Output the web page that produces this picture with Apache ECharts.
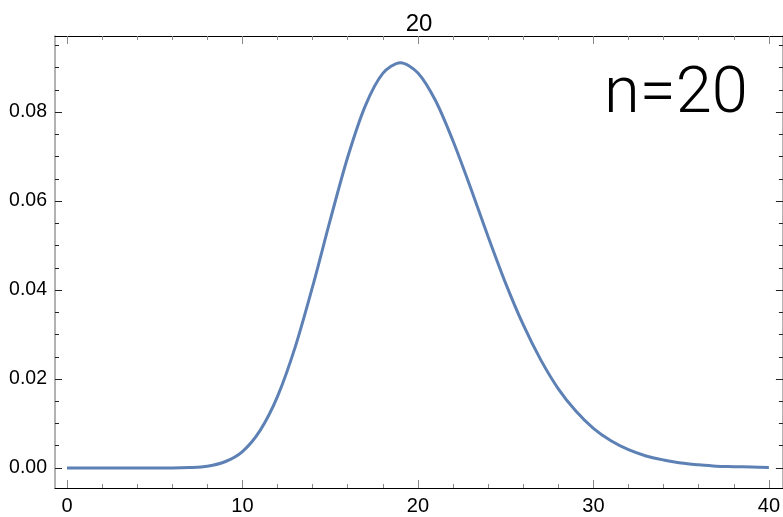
<!DOCTYPE html>
<html style="height: 100%">
<head>
<meta charset="utf-8">
<script src="https://cdn.jsdelivr.net/npm/echarts@6/dist/echarts.min.js"></script>
</head>
<body style="width: 100%; height: 100%; margin: 0; background: #fff;">
<div id="container" style="width: 783px; height: 517px;"></div>
<script type="text/javascript">
	// curve values, one per integer x
	var xValues = [0, 1, 2, 3, 4, 5, 6, 7, 8, 9, 10, 11, 12, 13, 14, 15, 16, 17, 18, 19, 20,
		21, 22, 23, 24, 25, 26, 27, 28, 29, 30, 31, 32, 33, 34, 35, 36, 37, 38, 39, 40];
	var density = [0, 0, 0, 0, 0, 0, 0, 0.0001, 0.0004, 0.0014, 0.0037, 0.0084, 0.0161, 0.0271, 0.0408,
		0.0557, 0.0699, 0.0814, 0.0887, 0.0911, 0.0888, 0.0826, 0.0735, 0.0630, 0.0520, 0.0415,
		0.0322, 0.0243, 0.0178, 0.0128, 0.0089, 0.0061, 0.0041, 0.0027, 0.0018, 0.0011, 0.0007,
		0.0004, 0.0003, 0.0002, 0.0001];

	var xMajor = [0, 10, 20, 30, 40];
	var xMinor = [2, 4, 6, 8, 12, 14, 16, 18, 22, 24, 26, 28, 32, 34, 36, 38];
	var yMajor = [0, 0.02, 0.04, 0.06, 0.08];
	var yMinor = [0.005, 0.01, 0.015, 0.025, 0.03, 0.035, 0.045, 0.05, 0.055, 0.065, 0.07, 0.075, 0.085, 0.09, 0.095];

	var plotTitle = '20';
	var note = 'n=20';

	var xMin = -0.683, xMax = 40.8;
	var yMin = -0.0045, yMax = 0.0971;

	var font = 'Liberation Sans, Arial, sans-serif';

	function xAxisDef(pos, ticks, len, withLine, withLabels) {
		return {
			type: 'value',
			position: pos,
			min: xMin,
			max: xMax,
			axisLine: { show: withLine, onZero: false, lineStyle: { color: '#000', width: 1 } },
			axisTick: { show: true, inside: true, length: len, customValues: ticks, lineStyle: { color: '#888', width: 1 } },
			axisLabel: { show: withLabels, customValues: ticks, color: '#000', fontSize: 20, fontFamily: font, margin: 8 },
			splitLine: { show: false }
		};
	}
	function yAxisDef(pos, ticks, len, withLine, withLabels) {
		return {
			type: 'value',
			position: pos,
			min: yMin,
			max: yMax,
			axisLine: { show: withLine, onZero: false, lineStyle: { color: '#999', width: 1.5 } },
			axisTick: { show: true, inside: true, length: len, customValues: ticks, lineStyle: { color: '#222', width: 1 } },
			axisLabel: {
				show: withLabels, customValues: ticks, color: '#000', fontSize: 19.5, fontFamily: font, margin: 8,
				formatter: function (v) { return v.toFixed(2); }
			},
			splitLine: { show: false }
		};
	}

	var dom = document.getElementById('container');
	var myChart = echarts.init(dom, null, { renderer: 'canvas' });

	var option = {
		animation: false,
		backgroundColor: '#fff',
		grid: { left: 55, top: 36, width: 729, height: 452 },
		xAxis: [
			xAxisDef('bottom', xMajor, 8, true, true),
			xAxisDef('bottom', xMinor, 4, false, false),
			xAxisDef('top', xMajor, 8, true, false),
			xAxisDef('top', xMinor, 4, false, false)
		],
		yAxis: [
			yAxisDef('left', yMajor, 7, true, true),
			yAxisDef('left', yMinor, 4, false, false),
			yAxisDef('right', yMajor, 7, true, false),
			yAxisDef('right', yMinor, 4, false, false)
		],
		graphic: [{
			type: 'text',
			x: 419,
			y: 24,
			style: {
				text: plotTitle,
				fill: '#000',
				align: 'center',
				verticalAlign: 'middle',
				font: '24px "Liberation Sans", Arial, sans-serif'
			}
		}, {
			type: 'text',
			left: 604,
			top: 63,
			style: {
				text: note,
				fill: '#000',
				font: '300 65px Roboto, "Liberation Sans", sans-serif'
			}
		}],
		series: [{
			type: 'line',
			xAxisIndex: 0,
			yAxisIndex: 0,
			data: xValues.map(function (x, i) { return [x, density[i]]; }),
			smooth: 0.3,
			showSymbol: false,
			lineStyle: { color: '#5e81b5', width: 3 }
		}]
	};
	myChart.setOption(option);
</script>
</body>
</html>
